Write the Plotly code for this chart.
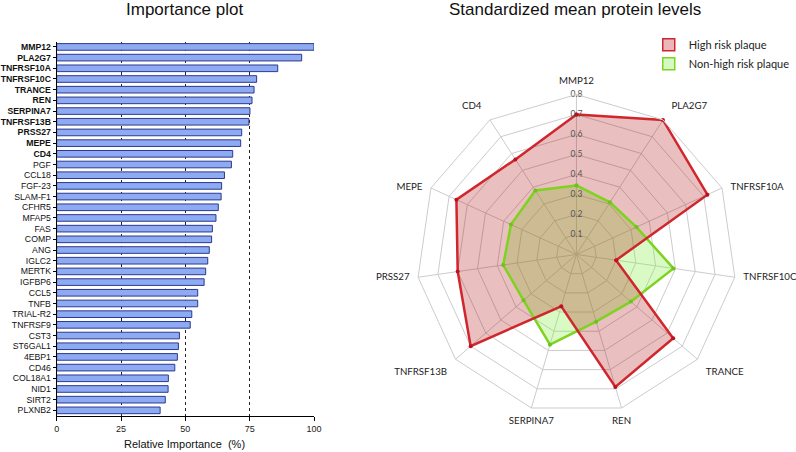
import plotly.graph_objects as go

# ---------------- data ----------------
proteins = ["MMP12", "PLA2G7", "TNFRSF10A", "TNFRSF10C", "TRANCE", "REN", "SERPINA7",
            "TNFRSF13B", "PRSS27", "MEPE", "CD4", "PGF", "CCL18", "FGF-23", "SLAM-F1",
            "CFHR5", "MFAP5", "FAS", "COMP", "ANG", "IGLC2", "MERTK", "IGFBP6", "CCL5",
            "TNFB", "TRIAL-R2", "TNFRSF9", "CST3", "ST6GAL1", "4EBP1", "CD46", "COL18A1",
            "NID1", "SIRT2", "PLXNB2"]
importance = [100, 95.2, 85.9, 77.7, 76.7, 75.9, 75.1, 74.7, 71.9, 71.5, 68.4, 67.9, 65.2,
              64.1, 63.9, 62.8, 61.9, 60.5, 60.2, 59.3, 58.7, 57.9, 57.3, 54.8, 54.8, 52.5,
              51.9, 47.7, 47.3, 46.9, 45.9, 43.4, 43.3, 42.2, 40.2]
importance_ticks = [0, 25, 50, 75, 100]

radar_axes = ["MMP12", "PLA2G7", "TNFRSF10A", "TNFRSF10C", "TRANCE", "REN", "SERPINA7",
              "TNFRSF13B", "PRSS27", "MEPE", "CD4"]
high_risk = [0.70, 0.80, 0.72, 0.20, 0.64, 0.69, 0.27, 0.70, 0.60, 0.66, 0.565]
non_high_risk = [0.345, 0.31, 0.33, 0.49, 0.36, 0.35, 0.47, 0.35, 0.37, 0.36, 0.38]
radial_ticks = [0.1, 0.2, 0.3, 0.4, 0.5, 0.6, 0.7, 0.8]
radial_max = 0.8

# label placement (style)
label_positions = ["top center", "top right", "middle right", "middle right", "bottom right",
                   "bottom center", "bottom center", "bottom left", "middle left",
                   "middle left", "top left"]

# ---------------- figure ----------------
ARIAL = "Arial, Liberation Sans, sans-serif"
LATO = "Lato, Open Sans, sans-serif"

ticktext = [f"<b>{p}</b>" if p in radar_axes else p for p in proteins]

theta_closed = radar_axes + radar_axes[:1]
high_closed = high_risk + high_risk[:1]
non_closed = non_high_risk + non_high_risk[:1]

fig = go.Figure()

fig.add_trace(go.Bar(
    x=importance, y=proteins, orientation="h", width=0.62,
    marker=dict(color="#8eaaf3", line=dict(color="#2b3a8f", width=1)),
    showlegend=False, hoverinfo="x+y",
))

# legend entries
fig.add_trace(go.Bar(x=[None], y=[None], orientation="h", name="High risk plaque",
                     marker=dict(color="#eab8bb", line=dict(color="#d0262d", width=1.5))))
fig.add_trace(go.Bar(x=[None], y=[None], orientation="h", name="Non-high risk plaque",
                     marker=dict(color="#d6f8c2", line=dict(color="#7ed321", width=1.5))))

# fills
fig.add_trace(go.Scatterpolar(
    r=non_closed, theta=theta_closed, mode="none", fill="toself",
    fillcolor="rgba(130,240,60,0.30)", showlegend=False, hoverinfo="skip", subplot="polar",
))
fig.add_trace(go.Scatterpolar(
    r=high_closed, theta=theta_closed, mode="none", fill="toself",
    fillcolor="rgba(170,0,0,0.25)", showlegend=False, hoverinfo="skip", subplot="polar",
))
# outlines
fig.add_trace(go.Scatterpolar(
    r=non_closed, theta=theta_closed, mode="lines+markers",
    line=dict(color="#7ed321", width=2.5), marker=dict(size=4, color="#6cc31c"),
    showlegend=False, subplot="polar",
))
fig.add_trace(go.Scatterpolar(
    r=high_closed, theta=theta_closed, mode="lines+markers",
    line=dict(color="#d0262d", width=2.5), marker=dict(size=4, color="#c01020"),
    showlegend=False, subplot="polar",
))
# radial tick labels along the first spoke
fig.add_trace(go.Scatterpolar(
    r=radial_ticks, theta=[radar_axes[0]] * len(radial_ticks), mode="text",
    text=[f"{v:.1f}" for v in radial_ticks], textposition="middle center",
    textfont=dict(family=LATO, size=8.5, color="#555555"),
    showlegend=False, hoverinfo="skip", subplot="polar",
))
# category labels just outside the outer ring
fig.add_trace(go.Scatterpolar(
    r=[radial_max] * len(radar_axes), theta=radar_axes, mode="markers+text",
    text=radar_axes, textposition=label_positions, cliponaxis=False,
    marker=dict(size=12, color="rgba(0,0,0,0)"),
    textfont=dict(family=LATO, size=9.7, color="#222"),
    showlegend=False, hoverinfo="skip", subplot="polar",
))

fig.update_layout(
    width=796, height=452,
    margin=dict(l=0, r=0, t=0, b=0),
    paper_bgcolor="white", plot_bgcolor="white",
    barmode="overlay",
    showlegend=True,
    legend=dict(x=0.815, y=0.933, xanchor="left", yanchor="top",
                font=dict(family=LATO, size=11, color="#222"),
                bgcolor="rgba(0,0,0,0)", tracegroupgap=0),
    xaxis=dict(domain=[0.0712, 0.3945], range=[0, 100], tickvals=importance_ticks,
               showgrid=True, griddash="dot", gridcolor="#222", gridwidth=1,
               zeroline=False, showline=True, linecolor="black", linewidth=1,
               ticks="outside", ticklen=4, tickcolor="black",
               tickfont=dict(family=ARIAL, size=9, color="#222"), automargin=False),
    yaxis=dict(domain=[0.0803, 0.908], categoryorder="array", categoryarray=proteins,
               range=[34.5, -0.5], tickvals=proteins, ticktext=ticktext,
               showgrid=False, zeroline=False, showline=True, linecolor="black", linewidth=1,
               ticks="outside", ticklen=3, tickcolor="black",
               tickfont=dict(family=ARIAL, size=8.7, color="#111"), automargin=False),
    polar=dict(
        domain=dict(x=[0.5232, 0.9252], y=[0.083, 0.791]),
        gridshape="linear", bgcolor="rgba(0,0,0,0)",
        radialaxis=dict(range=[0, radial_max], tick0=0, dtick=0.1, showticklabels=False,
                        ticks="", showline=False, gridcolor="#cccccc", gridwidth=1),
        angularaxis=dict(type="category", categoryarray=radar_axes, direction="clockwise",
                         rotation=90, gridcolor="#cccccc", showline=True, linecolor="#cccccc",
                         ticks="", showticklabels=False),
    ),
    annotations=[
        dict(text="Importance plot", x=0.2324, y=1 - 9.5 / 452, xref="paper", yref="paper",
             xanchor="center", yanchor="middle", showarrow=False,
             font=dict(family=ARIAL, size=17, color="#111")),
        dict(text="Standardized mean protein levels", x=0.722, y=1 - 9.5 / 452,
             xref="paper", yref="paper", xanchor="center", yanchor="middle", showarrow=False,
             font=dict(family=ARIAL, size=17, color="#111")),
        dict(text="Relative Importance\u00a0 (%)", x=0.2324, y=1 - 444 / 452,
             xref="paper", yref="paper", xanchor="center", yanchor="middle", showarrow=False,
             font=dict(family=ARIAL, size=11, color="#111")),
    ],
)

fig.write_html("out.html", config={"displayModeBar": False},
               post_script="document.body.style.margin='0';document.body.style.padding='0';")
